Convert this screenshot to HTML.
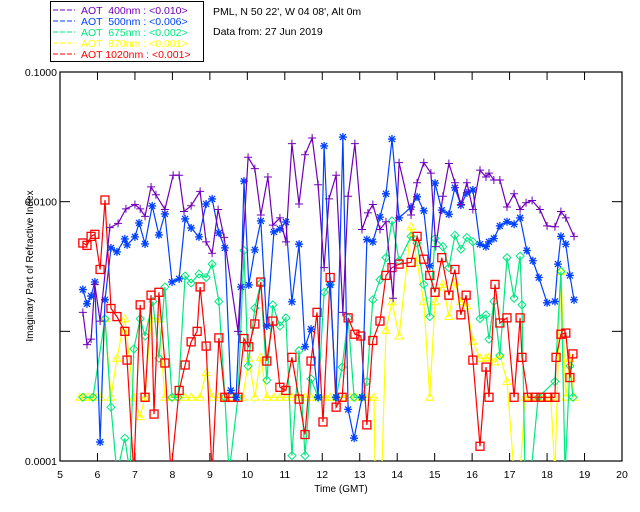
<!DOCTYPE html>
<html><head><meta charset="utf-8"><style>
body{margin:0;background:#fff;}
svg{display:block;font-family:"Liberation Sans",sans-serif;}
</style></head><body>
<svg id="chart" width="640" height="512" viewBox="0 0 640 512" xmlns="http://www.w3.org/2000/svg">
<rect x="0" y="0" width="640" height="512" fill="#fff"/>
<g>
<rect x="50.5" y="1.5" width="153" height="60" fill="none" stroke="#000" stroke-width="1"/>
<g font-size="10.5">
<line x1="53" y1="10" x2="75" y2="10" stroke="#7000b8" stroke-dasharray="5,2"/>
<text x="81" y="14" fill="#7000b8">AOT &#160;400nm : &lt;0.010&gt;</text>
<line x1="53" y1="21" x2="75" y2="21" stroke="#0040ff" stroke-dasharray="5,2"/>
<text x="81" y="25" fill="#0040ff">AOT &#160;500nm : &lt;0.006&gt;</text>
<line x1="53" y1="32" x2="75" y2="32" stroke="#00e880" stroke-dasharray="5,2"/>
<text x="81" y="36" fill="#00e880">AOT &#160;675nm : &lt;0.002&gt;</text>
<line x1="53" y1="43" x2="75" y2="43" stroke="#ffff00" stroke-dasharray="5,2"/>
<text x="81" y="47" fill="#ffff00">AOT &#160;870nm : &lt;0.001&gt;</text>
<line x1="53" y1="54" x2="75" y2="54" stroke="#ff0000" stroke-dasharray="5,2"/>
<text x="81" y="58" fill="#ff0000">AOT 1020nm : &lt;0.001&gt;</text>
</g></g>
<text x="213" y="15" font-size="10.5">PML, N 50 22', W 04 08', Alt 0m</text>
<text x="213" y="35" font-size="10.5">Data from: 27 Jun 2019</text>
<text transform="translate(33,266) rotate(-90)" text-anchor="middle" font-size="10">Imaginary Part of Refractive Index</text>
<text x="341" y="492" text-anchor="middle" font-size="10">Time (GMT)</text>
<defs><clipPath id="pc"><rect x="60" y="72" width="562" height="389"/></clipPath></defs>
<g id="axes"></g>
<g id="series" clip-path="url(#pc)"></g>
</svg>
<script>
const xTicks=[5,6,7,8,9,10,11,12,13,14,15,16,17,18,19,20];
const yTicks=[0.1,0.01,0.001,0.0001];
const yTickLabels=["0.1000","0.0100","","0.0001"];

const t400=[5.61,5.72,5.83,5.93,6.07,6.33,6.55,6.76,7.0,7.14,7.27,7.43,7.56,7.80,8.02,8.18,8.31,8.50,8.74,8.90,9.06,9.22,9.38,9.75,10.02,10.20,10.36,10.55,10.68,10.87,11.03,11.19,11.38,11.54,11.73,11.89,12.05,12.18,12.37,12.55,12.69,12.87,13.06,13.22,13.35,13.54,13.70,13.89,14.05,14.37,14.53,14.71,14.90,15.03,15.22,15.38,15.54,15.70,15.86,16.02,16.21,16.37,16.45,16.58,16.74,16.93,17.12,17.28,17.44,17.60,17.81,18.0,18.21,18.37,18.50,18.72];
const v400=[0.0014,0.00079,0.00087,0.0023,0.0012,0.0063,0.0068,0.0088,0.0095,0.0088,0.0077,0.013,0.0113,0.0087,0.016,0.016,0.0084,0.0093,0.012,0.0049,0.004,0.0087,0.0053,0.001,0.022,0.018,0.0079,0.0155,0.0066,0.0075,0.0049,0.028,0.0096,0.023,0.031,0.0135,0.0031,0.0105,0.016,0.0014,0.011,0.028,0.0061,0.0082,0.0095,0.0061,0.007,0.0018,0.02,0.0079,0.014,0.02,0.0166,0.0045,0.011,0.0197,0.014,0.0095,0.014,0.0087,0.0175,0.0155,0.0166,0.0147,0.0147,0.0091,0.0115,0.0087,0.0098,0.0102,0.0087,0.0065,0.0064,0.0084,0.0075,0.0054];

const t500=[5.61,5.72,5.83,5.93,6.07,6.20,6.36,6.52,6.73,6.79,7.00,7.11,7.27,7.46,7.64,7.80,7.99,8.18,8.34,8.50,8.71,8.90,9.06,9.24,9.40,9.56,9.70,9.83,9.91,10.04,10.20,10.36,10.52,10.71,10.87,11.03,11.19,11.38,11.54,11.70,11.89,12.05,12.21,12.37,12.55,12.69,12.85,13.06,13.19,13.35,13.54,13.70,13.86,14.05,14.37,14.53,14.71,14.87,15.01,15.19,15.38,15.54,15.70,15.86,16.02,16.21,16.37,16.45,16.58,16.74,16.93,17.12,17.28,17.46,17.62,17.78,18.00,18.21,18.29,18.37,18.50,18.61,18.72];
const v500=[0.0021,0.00163,0.00187,0.0024,0.00014,0.00175,0.0044,0.0041,0.00516,0.00464,0.00535,0.00685,0.00472,0.00927,0.00554,0.00804,0.0024,0.00254,0.00736,0.00627,0.00535,0.0096,0.0105,0.00574,0.0044,0.00035,0.00031,0.0022,0.0144,0.00228,0.00425,0.0071,0.0011,0.00584,0.00616,0.00697,0.00169,0.0047,0.00076,0.00104,0.00031,0.0269,0.00228,0.00031,0.0315,0.00025,0.00015,0.00031,0.0051,0.0049,0.0076,0.0115,0.0304,0.0075,0.0091,0.0109,0.0085,0.0032,0.0139,0.0086,0.008,0.0128,0.0094,0.0117,0.0123,0.0047,0.0045,0.0049,0.0052,0.0065,0.007,0.0067,0.0075,0.0042,0.0035,0.0026,0.00166,0.0017,0.0033,0.0054,0.0047,0.0027,0.00175];

const t675=[5.61,5.88,6.20,6.36,6.52,6.73,6.87,6.97,7.14,7.27,7.48,7.64,7.80,7.99,8.15,8.34,8.50,8.71,8.90,9.06,9.24,9.40,9.51,9.75,9.91,10.02,10.20,10.36,10.52,10.68,10.87,11.03,11.19,11.38,11.54,11.70,11.89,12.05,12.21,12.37,12.53,12.69,12.85,13.06,13.19,13.35,13.54,13.70,13.86,14.05,14.37,14.53,14.71,14.87,15.01,15.22,15.38,15.54,15.70,15.86,16.02,16.21,16.37,16.45,16.58,16.74,16.93,17.12,17.28,17.33,17.41,17.57,17.76,18.21,18.37,18.48,18.61,18.69];
const v675=[0.00031,0.00031,0.00125,0.00026,0.00008,0.00015,0.00008,0.00073,0.00125,0.00092,0.0017,0.00062,0.0022,0.00031,0.00031,0.00267,0.00236,0.00277,0.0026,0.0033,0.0017,0.00031,0.00008,0.00031,0.0042,0.00054,0.00151,0.00236,0.00042,0.0016,0.0011,0.00127,0.00011,0.00071,0.00011,0.00043,0.00031,0.002,0.0023,0.00031,0.00053,0.00127,0.00031,0.00031,0.00041,0.00175,0.0025,0.0037,0.0071,0.0035,0.0054,0.0048,0.0023,0.0013,0.0052,0.0045,0.0031,0.0055,0.0043,0.0053,0.0049,0.00125,0.00134,0.00087,0.0017,0.00065,0.0037,0.0018,0.0038,0.0016,0.00008,0.00008,0.00031,0.00041,0.0029,0.00008,0.00054,0.00031];

const t870=[5.53,5.64,5.75,5.85,5.96,6.09,6.20,6.36,6.52,6.73,6.97,7.14,7.27,7.43,7.64,7.80,7.99,8.15,8.34,8.50,8.74,8.90,9.06,9.24,9.40,9.56,9.75,9.88,10.04,10.20,10.36,10.52,10.71,10.87,11.03,11.19,11.38,11.54,11.70,11.89,12.07,12.21,12.37,12.55,12.74,12.90,13.06,13.22,13.38,13.41,13.59,13.70,13.86,14.05,14.37,14.53,14.71,14.87,15.01,15.22,15.38,15.54,15.70,15.86,16.02,16.21,16.37,16.45,16.61,16.74,16.93,17.12,17.28,17.41,17.57,17.76,17.92,18.10,18.21,18.37,18.50,18.61,18.72];
const v870=[0.00031,0.00031,0.00031,0.00031,0.00031,0.00031,0.00125,0.00031,0.00062,0.00125,0.00031,0.00022,0.00031,0.00125,0.00125,0.00031,0.00031,0.00031,0.00031,0.00031,0.00031,0.00048,0.00031,0.00031,0.00031,0.00031,0.00031,0.00031,0.00062,0.00031,0.00063,0.00031,0.00031,0.00031,0.00031,0.00031,0.00031,0.00031,0.00031,0.00031,0.00031,0.00031,0.00031,0.00031,0.00031,0.00031,0.00031,0.00031,0.00031,0.00008,0.00008,0.00102,0.00169,0.00092,0.0064,0.0034,0.00169,0.00031,0.00169,0.0023,0.0013,0.0024,0.00169,0.00157,0.00084,0.00062,0.00062,0.00063,0.00058,0.00066,0.00041,0.00008,0.00008,0.00031,0.00031,0.00031,0.00031,0.00031,0.00008,0.0029,0.00031,0.00062,0.00031];

const t1020=[5.61,5.72,5.83,5.93,6.07,6.20,6.36,6.52,6.73,6.79,6.97,7.14,7.27,7.43,7.51,7.64,7.80,7.96,8.18,8.34,8.50,8.66,8.74,8.90,9.06,9.24,9.40,9.56,9.75,9.91,10.04,10.20,10.36,10.52,10.68,10.87,11.03,11.19,11.38,11.54,11.70,11.86,12.02,12.21,12.37,12.53,12.69,12.87,13.03,13.19,13.35,13.54,13.70,13.86,14.05,14.37,14.53,14.71,14.87,15.01,15.19,15.38,15.54,15.70,15.84,16.02,16.21,16.37,16.45,16.61,16.74,16.93,17.12,17.28,17.33,17.49,17.68,17.84,18.02,18.21,18.24,18.37,18.50,18.61,18.69];
const v1020=[0.0048,0.0046,0.0054,0.0056,0.0030,0.0103,0.0015,0.0013,0.0010,0.0006,0.00008,0.0016,0.00031,0.0019,0.00023,0.0020,0.00057,0.00008,0.00035,0.00055,0.00083,0.0010,0.0022,0.00077,0.00008,0.00089,0.00031,0.00031,0.00031,0.00088,0.00076,0.00114,0.0024,0.00059,0.0012,0.00037,0.00035,0.00063,0.0003,0.00016,0.00059,0.0014,0.0002,0.0026,0.00026,0.00031,0.00127,0.00095,0.00092,0.00019,0.00085,0.0012,0.0027,0.0031,0.0033,0.0034,0.0054,0.0036,0.0027,0.002,0.0037,0.0019,0.0030,0.00134,0.0019,0.0006,0.00013,0.00053,0.00031,0.0023,0.00116,0.00127,0.00031,0.00127,0.00063,0.00031,0.00031,0.00031,0.00031,0.00031,0.00063,0.00095,0.00097,0.00044,0.00067];

const L=60,R=622,T=72,B=461;
const xS=h=>L+(h-5)*(R-L)/15;
const yS=v=>T+(Math.log10(0.1)-Math.log10(v))*(B-T)/3;
const NS="http://www.w3.org/2000/svg";
function mk(tag,attrs,parent){const e=document.createElementNS(NS,tag);for(const k in attrs)e.setAttribute(k,attrs[k]);parent.appendChild(e);return e;}
const axes=document.getElementById('axes');
const frame=mk('rect',{x:L,y:T,width:R-L,height:B-T,fill:'none',stroke:'#000','stroke-width':1.2},axes);


xTicks.forEach(h=>{
  const x=xS(h);
  mk('line',{x1:x,y1:B,x2:x,y2:B-8,stroke:'#000'},axes);
  mk('line',{x1:x,y1:T,x2:x,y2:T+8,stroke:'#000'},axes);
  const t=mk('text',{x:x,y:B+17,'text-anchor':'middle','font-size':10.5},axes);
  t.textContent=h;
  
  
});
yTicks.forEach((v,i)=>{
  const y=yS(v);
  mk('line',{x1:L,y1:y,x2:L+10,y2:y,stroke:'#000'},axes);
  mk('line',{x1:R,y1:y,x2:R-10,y2:y,stroke:'#000'},axes);
  const t=mk('text',{x:L-3,y:y+4,'text-anchor':'end','font-size':10.5},axes);
  t.textContent=yTickLabels[i];
  
  
});
const sg=document.getElementById('series');
function marker(g,type,x,y,c){
  const s=4;
  if(type==='plus'){mk('path',{d:`M${x-s} ${y}H${x+s}M${x} ${y-s}V${y+s}`,stroke:c,fill:'none'},g);}
  else if(type==='star'){mk('path',{d:`M${x-s} ${y}H${x+s}M${x} ${y-s}V${y+s}M${x-3} ${y-3}L${x+3} ${y+3}M${x-3} ${y+3}L${x+3} ${y-3}`,stroke:c,fill:'none','stroke-width':1.3},g);}
  else if(type==='diamond'){mk('path',{d:`M${x} ${y-s}L${x+s} ${y}L${x} ${y+s}L${x-s} ${y}Z`,stroke:c,fill:'none'},g);}
  else if(type==='tri'){mk('path',{d:`M${x} ${y-s}L${x+s} ${y+3}L${x-s} ${y+3}Z`,stroke:c,fill:'none'},g);}
  else {mk('rect',{x:x-s,y:y-s,width:2*s,height:2*s,stroke:c,fill:'none','stroke-width':1.3},g);}
}
function series(name,ts,vs,c,type){
  const g=mk('g',{},sg);
  
  
  const pts=ts.map((t,i)=>xS(t).toFixed(1)+','+yS(vs[i]).toFixed(1)).join(' ');
  mk('polyline',{points:pts,fill:'none',stroke:c,'stroke-width':1.2},g);
  ts.forEach((t,i)=>marker(g,type,xS(t),yS(vs[i]),c));
}
series('series-870nm',t870,v870,'#ffff00','tri');
series('series-675nm',t675,v675,'#00e880','diamond');
series('series-1020nm',t1020,v1020,'#ff0000','square');
series('series-500nm',t500,v500,'#0040ff','star');
series('series-400nm',t400,v400,'#7000b8','plus');
</script>
</body></html>
